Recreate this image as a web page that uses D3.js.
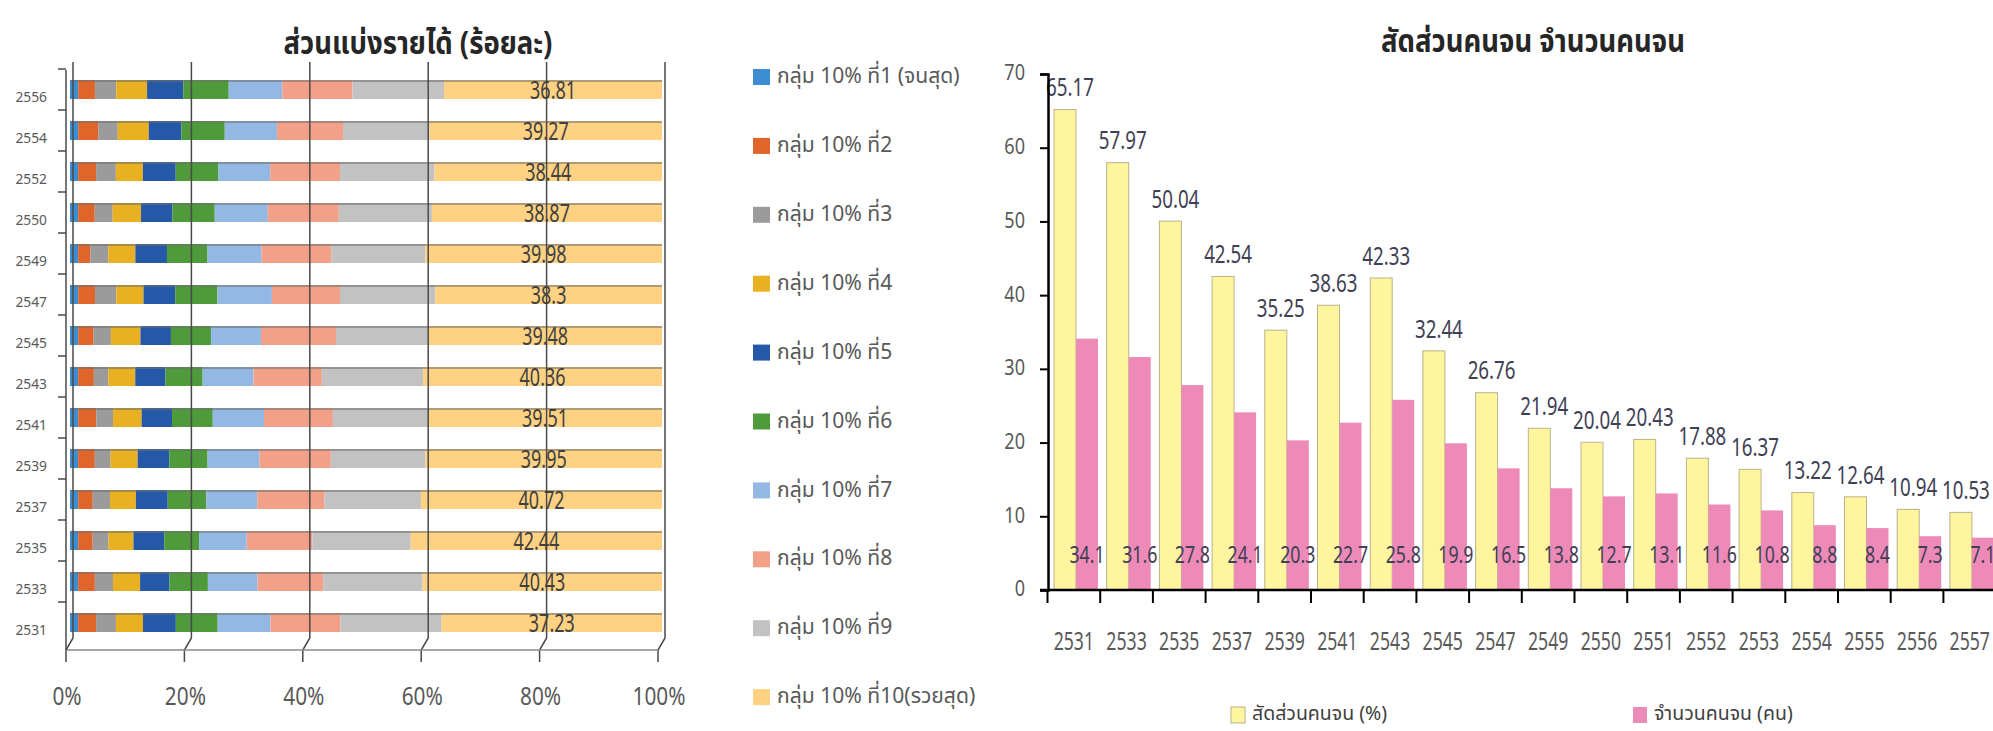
<!DOCTYPE html>
<html>
<head>
<meta charset="utf-8">
<script src="https://cdn.jsdelivr.net/npm/d3@7"></script>
<style>
  body { margin: 0; background: #fff; }
  svg { display: block; }
  .num { font-family: "Noto Sans", sans-serif; }
  .th { font-family: "Noto Sans Thai", "Noto Sans Thai UI", "Noto Sans", sans-serif; }
</style>
</head>
<body>
<svg id="chart" width="1993" height="731"></svg>
<script>
// ---- datos: ส่วนแบ่งรายได้ (ร้อยละ) ----
const incomeYears = ["2556", "2554", "2552", "2550", "2549", "2547", "2545", "2543", "2541", "2539", "2537", "2535", "2533", "2531"];
const d1  = [1.38, 1.38, 1.37, 1.37, 1.37, 1.38, 1.38, 1.37, 1.38, 1.37, 1.38, 1.38, 1.37, 1.37];
const d2  = [2.83, 3.39, 3.04, 2.81, 2.06, 2.84, 2.61, 2.66, 3.06, 2.82, 2.46, 2.45, 2.83, 3.04];
const d3_ = [3.60, 3.30, 3.34, 3.03, 3.04, 3.60, 2.92, 2.43, 2.83, 2.67, 2.92, 2.68, 3.06, 3.35];
const d4  = [5.21, 5.23, 4.56, 4.79, 4.57, 4.60, 4.99, 4.56, 4.83, 4.57, 4.37, 4.21, 4.58, 4.57];
const d5  = [6.13, 5.53, 5.55, 5.31, 5.34, 5.36, 5.15, 5.09, 5.13, 5.34, 5.38, 5.20, 4.96, 5.55];
const d6  = [7.66, 7.31, 7.22, 7.14, 6.85, 7.13, 6.76, 6.30, 6.89, 6.47, 6.53, 5.89, 6.49, 7.07];
const d7  = [9.04, 8.84, 8.74, 8.96, 9.14, 9.20, 8.45, 8.59, 8.65, 8.77, 8.60, 8.04, 8.40, 8.91];
const d8  = [11.87, 11.14, 11.78, 12.00, 11.81, 11.50, 12.67, 11.54, 11.64, 12.04, 11.36, 11.10, 11.08, 11.79];
const d9  = [15.47, 14.61, 15.96, 15.72, 15.84, 16.09, 15.59, 17.10, 16.08, 16.00, 16.28, 16.61, 16.80, 17.12];
const d10 = [36.81, 39.27, 38.44, 38.87, 39.98, 38.3, 39.48, 40.36, 39.51, 39.95, 40.72, 42.44, 40.43, 37.23];
const decileNames = ["กลุ่ม 10% ที่1 (จนสุด)", "กลุ่ม 10% ที่2", "กลุ่ม 10% ที่3", "กลุ่ม 10% ที่4", "กลุ่ม 10% ที่5",
                     "กลุ่ม 10% ที่6", "กลุ่ม 10% ที่7", "กลุ่ม 10% ที่8", "กลุ่ม 10% ที่9", "กลุ่ม 10% ที่10(รวยสุด)"];
const decileColors = ["#3d8dd2", "#e0652b", "#9b9b9b", "#e9b021", "#2559a8", "#4f9a3b", "#93b8e3", "#f2a188", "#c2c2c2", "#ffd182"];
const pctTicks = [0, 20, 40, 60, 80, 100];

// ---- datos: สัดส่วนคนจน จำนวนคนจน ----
const povYears = ["2531", "2533", "2535", "2537", "2539", "2541", "2543", "2545", "2547", "2549", "2550", "2551", "2552", "2553", "2554", "2555", "2556", "2557"];
const poorPct   = [65.17, 57.97, 50.04, 42.54, 35.25, 38.63, 42.33, 32.44, 26.76, 21.94, 20.04, 20.43, 17.88, 16.37, 13.22, 12.64, 10.94, 10.53];
const poorCount = [34.1, 31.6, 27.8, 24.1, 20.3, 22.7, 25.8, 19.9, 16.5, 13.8, 12.7, 13.1, 11.6, 10.8, 8.8, 8.4, 7.3, 7.1];
const povSeries = ["สัดส่วนคนจน (%)", "จำนวนคนจน (คน)"];

const svg = d3.select("#chart");

// texto estrecho: posición por transform y escala horizontal
function squeeze(sel, fx, fy, sx) {
    return sel.attr("x", 0).attr("y", 0)
        .attr("transform", (d, i) => `translate(${fx(d, i)},${fy(d, i)}) scale(${sx},1)`);
}

// =================== 1. barras apiladas ===================
const deciles = [d1, d2, d3_, d4, d5, d6, d7, d8, d9, d10];
const keys = d3.range(10);
const rows = incomeYears.map((y, i) => {
    const r = { year: y };
    keys.forEach(k => r[k] = deciles[k][i]);
    return r;
});
const stacked = d3.stack().keys(keys)(rows);

const xL = d3.scaleLinear().domain([0, 100]).range([70, 662]);
const xFloor = d3.scaleLinear().domain([0, 100]).range([66, 658]);
const yL = d3.scaleBand().domain(incomeYears).range([69, 643]).paddingInner(0.537).paddingOuter(0.2685);

const left = svg.append("g");

left.append("text").attr("class", "th")
    .attr("text-anchor", "middle")
    .style("font-size", "32px").style("font-weight", "bold").attr("fill", "#262626")
    .text("ส่วนแบ่งรายได้ (ร้อยละ)")
    .call(squeeze, () => 418, () => 54, 0.86);

left.append("g").selectAll("g")
    .data(stacked)
    .join("g")
    .attr("fill", d => decileColors[d.key])
    .selectAll("rect")
    .data(d => d)
    .join("rect")
    .attr("x", d => xL(d[0]))
    .attr("y", d => yL(d.data.year))
    .attr("width", d => xL(d[1]) - xL(d[0]))
    .attr("height", yL.bandwidth());

// borde superior (efecto 3D)
left.append("g").selectAll("line")
    .data(incomeYears)
    .join("line")
    .attr("x1", xL(0)).attr("x2", xL(100))
    .attr("y1", d => yL(d) + 1).attr("y2", d => yL(d) + 1)
    .attr("stroke", "#6f6f6f").attr("stroke-opacity", 0.55).attr("stroke-width", 2);

// rejilla: pared trasera + piso
const grid = left.append("g").attr("stroke", "#4a4a4a").attr("stroke-width", 1.5).attr("fill", "none");
pctTicks.forEach(p => {
    const wx = xL(p) + 3, fx = xFloor(p);
    grid.append("path").attr("d", `M${wx},62 L${wx},638 L${fx},650 L${fx},662`);
});
grid.append("line").attr("x1", xFloor(0)).attr("x2", xFloor(100)).attr("y1", 650).attr("y2", 650).attr("stroke", "#8a8a8a");

const gap = (yL.step() - yL.bandwidth()) / 2;
grid.append("line").attr("x1", 66).attr("x2", 66).attr("y1", 70).attr("y2", 650);
left.append("g").selectAll("line")
    .data(incomeYears)
    .join("line")
    .attr("x1", 58).attr("x2", 66)
    .attr("y1", d => yL(d) - gap).attr("y2", d => yL(d) - gap)
    .attr("stroke", "#4a4a4a").attr("stroke-width", 1.5);

left.append("g").selectAll("text")
    .data(incomeYears)
    .join("text").attr("class", "num")
    .attr("text-anchor", "end").attr("dominant-baseline", "middle")
    .style("font-size", "15px").attr("fill", "#595959")
    .text(d => d)
    .call(squeeze, () => 47, d => yL(d) + yL.bandwidth() / 2 + 8, 0.92);

left.append("g").selectAll("text")
    .data(pctTicks)
    .join("text").attr("class", "num")
    .attr("text-anchor", "middle").attr("dominant-baseline", "middle")
    .style("font-size", "26px").attr("fill", "#595959")
    .text(d => d + "%")
    .call(squeeze, d => xFloor(d) + 1, () => 698, 0.8);

left.append("g").selectAll("text")
    .data(stacked[9])
    .join("text").attr("class", "num")
    .attr("text-anchor", "middle").attr("dominant-baseline", "middle")
    .style("font-size", "25px").attr("fill", "#404040")
    .text(d => d.data[9])
    .call(squeeze, d => (xL(d[0]) + xL(d[1])) / 2, d => yL(d.data.year) + yL.bandwidth() / 2 + 3, 0.72);

// leyenda
const leg = svg.append("g").selectAll("g")
    .data(decileNames)
    .join("g")
    .attr("transform", (d, i) => `translate(753,${77 + i * 68.9})`);
leg.append("rect").attr("x", 0).attr("y", -8).attr("width", 17).attr("height", 16)
    .attr("fill", (d, i) => decileColors[i]);
leg.append("text").attr("class", "th")
    .attr("dominant-baseline", "middle")
    .style("font-size", "22px").attr("fill", "#595959")
    .text(d => d)
    .call(squeeze, () => 24, () => 0, 0.96);

// =================== 2. barras agrupadas ===================
const xR = d3.scaleBand().domain(povYears).range([1047.5, 1047.5 + 18 * 52.7]);
const xIn = d3.scaleBand().domain([0, 1]).range([6.5, 50.5]);
const yR = d3.scaleLinear().domain([0, 70]).range([590, 74]);

const right = svg.append("g");

right.append("text").attr("class", "th")
    .attr("text-anchor", "middle")
    .style("font-size", "32px").style("font-weight", "bold").attr("fill", "#262626")
    .text("สัดส่วนคนจน จำนวนคนจน")
    .call(squeeze, () => 1533, () => 52, 0.86);

const groups = right.append("g").selectAll("g")
    .data(povYears)
    .join("g")
    .attr("transform", d => `translate(${xR(d)},0)`);

groups.append("rect")
    .attr("x", xIn(0)).attr("width", xIn.bandwidth())
    .attr("y", (d, i) => yR(poorPct[i]))
    .attr("height", (d, i) => yR(0) - yR(poorPct[i]))
    .attr("fill", "#fff59e").attr("stroke", "#b9b28a").attr("stroke-width", 1);

groups.append("rect")
    .attr("x", xIn(1)).attr("width", xIn.bandwidth())
    .attr("y", (d, i) => yR(poorCount[i]))
    .attr("height", (d, i) => yR(0) - yR(poorCount[i]))
    .attr("fill", "#ee8ab8");

groups.append("text").attr("class", "num")
    .attr("text-anchor", "middle").attr("dominant-baseline", "middle")
    .style("font-size", "25px").attr("fill", "#404055")
    .text((d, i) => poorPct[i])
    .call(squeeze, () => xIn(0) + xIn.bandwidth() / 2 + 5, (d, i) => yR(poorPct[i]) - 20, 0.75);

groups.append("text").attr("class", "num")
    .attr("text-anchor", "middle").attr("dominant-baseline", "middle")
    .style("font-size", "23px").attr("fill", "#404055")
    .text((d, i) => poorCount[i])
    .call(squeeze, () => xIn(1) + xIn.bandwidth() / 2, () => 557, 0.77);

// eje y
const yAxis = right.append("g")
    .attr("transform", "translate(1048,0)")
    .call(d3.axisLeft(yR).ticks(7).tickSize(8).tickPadding(0));
yAxis.select(".domain").attr("stroke", "#000").attr("stroke-width", 2.5);
yAxis.selectAll(".tick line").attr("stroke", "#000").attr("stroke-width", 2);
yAxis.selectAll(".tick text").attr("class", "num")
    .style("font-size", "22px").attr("fill", "#595959")
    .attr("x", 0).attr("dy", null).attr("dominant-baseline", "middle")
    .attr("transform", "translate(-23,0) scale(0.82,1)");

// eje x
right.append("line").attr("x1", 1040).attr("x2", 1993).attr("y1", yR(0)).attr("y2", yR(0))
    .attr("stroke", "#000").attr("stroke-width", 2.5);
right.append("g").selectAll("line")
    .data(povYears)
    .join("line")
    .attr("x1", d => xR(d)).attr("x2", d => xR(d))
    .attr("y1", yR(0)).attr("y2", yR(0) + 13)
    .attr("stroke", "#000").attr("stroke-width", 2);
right.append("g").selectAll("text")
    .data(povYears)
    .join("text").attr("class", "num")
    .attr("text-anchor", "middle").attr("dominant-baseline", "middle")
    .style("font-size", "26px").attr("fill", "#595959")
    .text(d => d)
    .call(squeeze, d => xR(d) + xR.bandwidth() / 2, () => 643, 0.68);

// leyenda
const legR = right.append("g").selectAll("g")
    .data(povSeries)
    .join("g")
    .attr("transform", (d, i) => `translate(${i === 0 ? 1231 : 1633},715)`);
legR.append("rect").attr("x", 0).attr("y", -8).attr("width", 14).attr("height", 16)
    .attr("fill", (d, i) => i === 0 ? "#fff59e" : "#ee8ab8")
    .attr("stroke", (d, i) => i === 0 ? "#b9b28a" : "none");
legR.append("text").attr("class", "th")
    .attr("x", 21).attr("y", 0).attr("dominant-baseline", "middle")
    .style("font-size", "19.5px").attr("fill", "#404040")
    .text(d => d);
</script>
</body>
</html>
